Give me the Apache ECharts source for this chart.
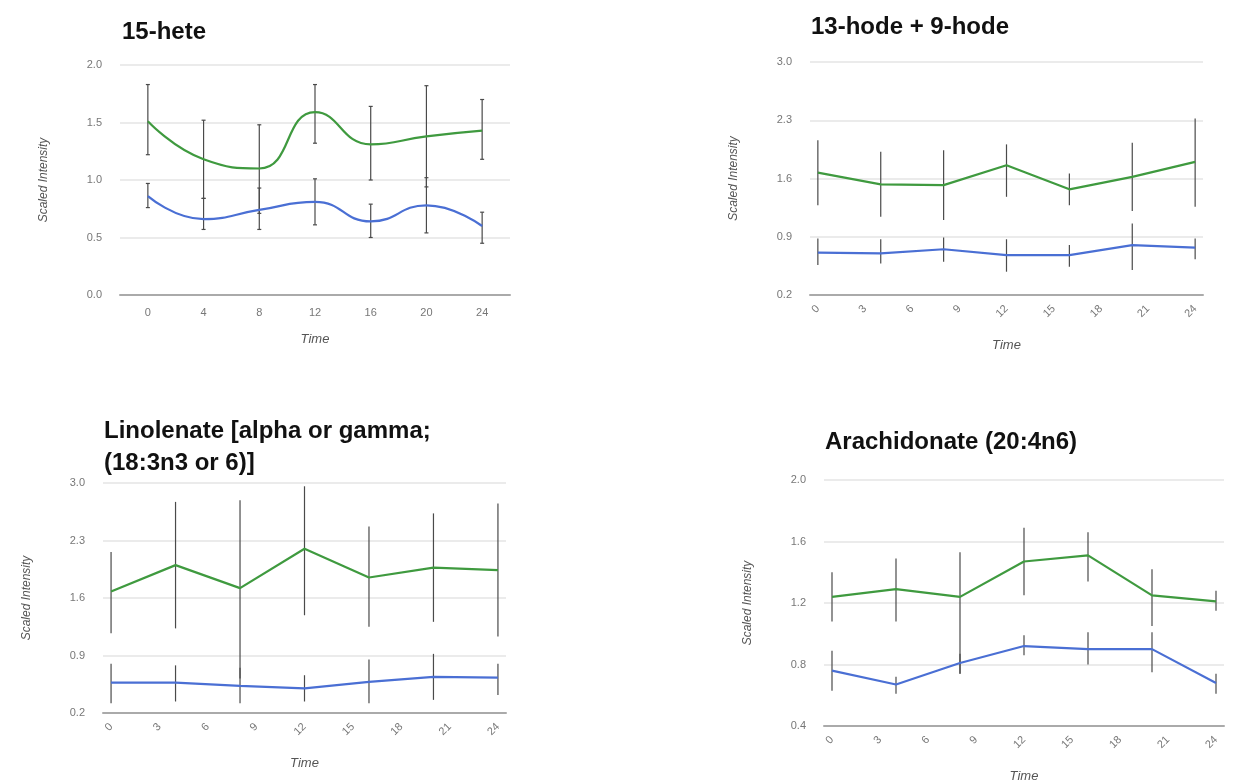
<!DOCTYPE html>
<html>
<head>
<meta charset="utf-8">
<title>Scaled Intensity over Time</title>
<script src="https://cdn.jsdelivr.net/npm/echarts@6/dist/echarts.min.js"></script>
<style>
  html, body { margin: 0; padding: 0; background: #fff; }
  #main { width: 1240px; height: 784px; }
</style>
</head>
<body>
<div id="main"></div>
<script>
  // x categories
  var heteHours = ['0', '4', '8', '12', '16', '20', '24'];
  var hourCats = ['0', '1', '2', '3', '4', '5', '6', '7', '8', '9', '10', '11', '12',
    '13', '14', '15', '16', '17', '18', '19', '20', '21', '22', '23', '24'];
  var sampleHours = ['0', '4', '8', '12', '16', '20', '24'];

  // 15-hete
  var heteGreen = [1.51, 1.18, 1.10, 1.59, 1.31, 1.38, 1.43];
  var heteGreenLo = [1.22, 0.84, 0.71, 1.32, 1.00, 0.94, 1.18];
  var heteGreenHi = [1.83, 1.52, 1.48, 1.83, 1.64, 1.82, 1.70];
  var heteBlue = [0.86, 0.66, 0.74, 0.81, 0.64, 0.78, 0.60];
  var heteBlueLo = [0.76, 0.57, 0.57, 0.61, 0.50, 0.54, 0.45];
  var heteBlueHi = [0.97, 0.84, 0.93, 1.01, 0.79, 1.02, 0.72];

  // 13-hode + 9-hode
  var hodeGreen = [1.67, 1.53, 1.52, 1.76, 1.47, 1.62, 1.80];
  var hodeGreenLo = [1.28, 1.14, 1.10, 1.38, 1.28, 1.21, 1.26];
  var hodeGreenHi = [2.06, 1.92, 1.94, 2.01, 1.66, 2.03, 2.32];
  var hodeBlue = [0.71, 0.70, 0.75, 0.68, 0.68, 0.80, 0.77];
  var hodeBlueLo = [0.56, 0.58, 0.60, 0.48, 0.54, 0.50, 0.63];
  var hodeBlueHi = [0.88, 0.87, 0.89, 0.87, 0.80, 1.06, 0.88];

  // Linolenate
  var linGreen = [1.68, 2.00, 1.72, 2.20, 1.85, 1.97, 1.94];
  var linGreenLo = [1.17, 1.23, 0.62, 1.39, 1.25, 1.31, 1.13];
  var linGreenHi = [2.16, 2.77, 2.79, 2.96, 2.47, 2.63, 2.75];
  var linBlue = [0.57, 0.57, 0.53, 0.50, 0.58, 0.64, 0.63];
  var linBlueLo = [0.32, 0.34, 0.32, 0.34, 0.32, 0.36, 0.42];
  var linBlueHi = [0.80, 0.78, 0.75, 0.66, 0.85, 0.92, 0.80];

  // Arachidonate
  var araGreen = [1.24, 1.29, 1.24, 1.47, 1.51, 1.25, 1.21];
  var araGreenLo = [1.08, 1.08, 0.74, 1.25, 1.34, 1.05, 1.15];
  var araGreenHi = [1.40, 1.49, 1.53, 1.69, 1.66, 1.42, 1.28];
  var araBlue = [0.76, 0.67, 0.81, 0.92, 0.90, 0.90, 0.68];
  var araBlueLo = [0.63, 0.61, 0.74, 0.86, 0.80, 0.75, 0.61];
  var araBlueHi = [0.89, 0.72, 0.87, 0.99, 1.01, 1.01, 0.74];

  var GREEN = '#3f9a3f';
  var BLUE = '#4a6fd4';
  var FONT = 'Liberation Sans, Arial, sans-serif';

  var panels = [
    {title: '15-hete', tLeft: 117, tTop: 11, grid: {left: 120, width: 390, top: 65, height: 230},
      cats: heteHours, rotate: 0, nameGapX: 38, yMin: 0, yMax: 2, yStep: 0.5, smooth: true, caps: true,
      g: heteGreen, gLo: heteGreenLo, gHi: heteGreenHi, b: heteBlue, bLo: heteBlueLo, bHi: heteBlueHi},
    {title: '13-hode + 9-hode', tLeft: 806, tTop: 6, grid: {left: 810, width: 393, top: 62, height: 233},
      cats: hourCats, rotate: 45, nameGapX: 44, yMin: 0.2, yMax: 3.0, yStep: 0.7, smooth: false, caps: false,
      g: hodeGreen, gLo: hodeGreenLo, gHi: hodeGreenHi, b: hodeBlue, bLo: hodeBlueLo, bHi: hodeBlueHi},
    {title: 'Linolenate [alpha or gamma;\n(18:3n3 or 6)]', tLeft: 99, tTop: 410, grid: {left: 103, width: 403, top: 483, height: 230},
      cats: hourCats, rotate: 45, nameGapX: 44, yMin: 0.2, yMax: 3.0, yStep: 0.7, smooth: false, caps: false,
      g: linGreen, gLo: linGreenLo, gHi: linGreenHi, b: linBlue, bLo: linBlueLo, bHi: linBlueHi},
    {title: 'Arachidonate (20:4n6)', tLeft: 820, tTop: 421, grid: {left: 824, width: 400, top: 480, height: 248},
      cats: hourCats, rotate: 45, nameGapX: 44, yMin: 0.4, yMax: 2.0, yStep: 0.4, smooth: false, caps: false,
      g: araGreen, gLo: araGreenLo, gHi: araGreenHi, b: araBlue, bLo: araBlueLo, bHi: araBlueHi}
  ];

  function errorBars(caps) {
    return function (params, api) {
      var x = api.value(0);
      var lo = api.coord([x, api.value(1)]);
      var hi = api.coord([x, api.value(2)]);
      var style = {stroke: '#4a4a4a', lineWidth: 1.2};
      var kids = [{type: 'line', shape: {x1: lo[0], y1: lo[1], x2: hi[0], y2: hi[1]}, style: style}];
      if (caps) {
        kids.push({type: 'line', shape: {x1: lo[0] - 2, y1: lo[1], x2: lo[0] + 2, y2: lo[1]}, style: style});
        kids.push({type: 'line', shape: {x1: hi[0] - 2, y1: hi[1], x2: hi[0] + 2, y2: hi[1]}, style: style});
      }
      return {type: 'group', children: kids};
    };
  }

  var option = {
    backgroundColor: '#fff',
    animation: false,
    title: [], grid: [], xAxis: [], yAxis: [], series: []
  };

  panels.forEach(function (p, i) {
    option.title.push({
      text: p.title, left: p.tLeft, top: p.tTop,
      textStyle: {fontFamily: FONT, fontSize: 24, fontWeight: 'bold', color: '#111', lineHeight: 32}
    });
    option.grid.push(p.grid);
    option.xAxis.push({
      type: 'category', gridIndex: i, data: p.cats, boundaryGap: true,
      name: 'Time', nameLocation: 'middle', nameGap: p.nameGapX,
      nameTextStyle: {fontFamily: FONT, fontSize: 13, fontStyle: 'italic', color: '#555'},
      axisLine: {lineStyle: {color: '#aaa', width: 2}},
      axisTick: {show: false},
      axisLabel: {interval: p.rotate ? 2 : 0, rotate: p.rotate, margin: 12,
        fontFamily: FONT, fontSize: 11, color: '#777'}
    });
    option.yAxis.push({
      type: 'value', gridIndex: i, min: p.yMin, max: p.yMax, interval: p.yStep,
      name: 'Scaled Intensity', nameLocation: 'middle', nameGap: 70,
      nameTextStyle: {fontFamily: FONT, fontSize: 12, fontStyle: 'italic', color: '#555'},
      axisLine: {show: false}, axisTick: {show: false},
      axisLabel: {margin: 18, fontFamily: FONT, fontSize: 11, color: '#777',
        formatter: function (v) { return v.toFixed(1); }},
      splitLine: {lineStyle: {color: '#e4e4e4', width: 1.5}}
    });
    var gBars = sampleHours.map(function (h, k) { return [h, p.gLo[k], p.gHi[k]]; });
    var bBars = sampleHours.map(function (h, k) { return [h, p.bLo[k], p.bHi[k]]; });
    option.series.push({
      type: 'custom', xAxisIndex: i, yAxisIndex: i, z: 1,
      renderItem: errorBars(p.caps), encode: {x: 0, y: [1, 2]}, data: gBars
    });
    option.series.push({
      type: 'custom', xAxisIndex: i, yAxisIndex: i, z: 1,
      renderItem: errorBars(p.caps), encode: {x: 0, y: [1, 2]}, data: bBars
    });
    option.series.push({
      type: 'line', xAxisIndex: i, yAxisIndex: i, z: 3, smooth: p.smooth ? 0.5 : false,
      symbol: 'none', lineStyle: {color: GREEN, width: 2.2}, itemStyle: {color: GREEN},
      data: sampleHours.map(function (h, k) { return [h, p.g[k]]; })
    });
    option.series.push({
      type: 'line', xAxisIndex: i, yAxisIndex: i, z: 3, smooth: p.smooth ? 0.5 : false,
      symbol: 'none', lineStyle: {color: BLUE, width: 2.2}, itemStyle: {color: BLUE},
      data: sampleHours.map(function (h, k) { return [h, p.b[k]]; })
    });
  });

  var chart = echarts.init(document.getElementById('main'));
  chart.setOption(option);
</script>
</body>
</html>
